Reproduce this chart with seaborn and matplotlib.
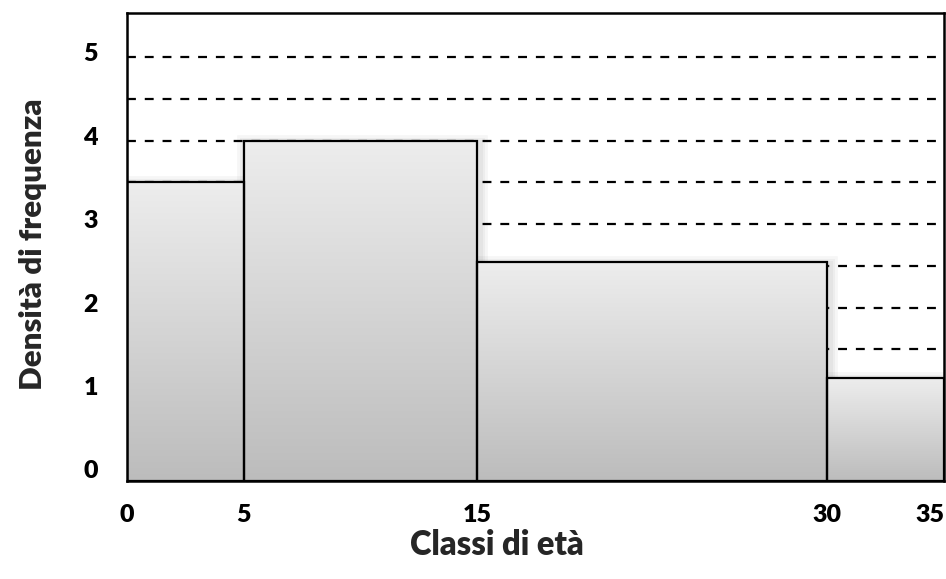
import numpy as np
import pandas as pd
import matplotlib
matplotlib.use("Agg")
import matplotlib.pyplot as plt
import matplotlib.transforms as mtransforms
import matplotlib.patheffects as pe
from matplotlib.colors import LinearSegmentedColormap
from matplotlib.patches import Rectangle
import seaborn as sns

# Age classes (bin edges) and the frequency density of each class
class_edges = [0, 5, 15, 30, 35]
density = [3.5, 4.0, 2.55, 1.15]
x_tick_labels = ["0", "5", "15", "30", "35"]
y_ticks = [0, 1, 2, 3, 4, 5]
y_tick_labels = ["0", "1", "2", "3", "4", "5"]
grid_levels = [0.5, 1.0, 1.5, 2.0, 2.5, 3.0, 3.5, 4.0, 4.5, 5.0]

sns.set_theme(style="white")
plt.rcParams["font.family"] = ["Lato", "DejaVu Sans"]
plt.rcParams["font.weight"] = "heavy"

mids = [(a + b) / 2 for a, b in zip(class_edges[:-1], class_edges[1:])]
df = pd.DataFrame({"eta": mids, "densita": density})

Y_LO, Y_HI = -0.074, 5.525

fig = plt.figure(figsize=(9.46, 5.79), dpi=100)
ax = fig.add_axes([0.1342, 0.1701, 0.8637, 0.8066])

# Histogram with unequal class widths: bar height = frequency density
sns.histplot(data=df, x="eta", weights="densita", bins=class_edges,
             stat="count", fill=True, facecolor="none", edgecolor="black",
             linewidth=1.6, ax=ax, zorder=5)

# Bars rest on the lower frame; gradient fill and soft shadow for each
cmap = LinearSegmentedColormap.from_list("bar_grad", ["#bcbcbc", "#ededed"])
grad = np.linspace(1, 0, 256).reshape(-1, 1)
for p in list(ax.patches):
    top = p.get_y() + p.get_height()
    p.set_y(Y_LO)
    p.set_height(top - Y_LO)
    x0, w = p.get_x(), p.get_width()
    shadow = Rectangle((x0, Y_LO), w, top - Y_LO, facecolor="white",
                       edgecolor="none", zorder=2)
    shadow.set_path_effects([
        pe.Stroke(linewidth=lw, foreground="black", alpha=0.035,
                  offset=(1.0, -1.5))
        for lw in (12, 8, 5)
    ] + [pe.Normal()])
    ax.add_patch(shadow)
    ax.imshow(grad, cmap=cmap, extent=[x0, x0 + w, Y_LO, top],
              aspect="auto", zorder=3, interpolation="bilinear")

# Dashed horizontal guides behind the bars
for lv in grid_levels:
    ax.axhline(lv, color="black", linewidth=1.6, linestyle=(0, (4, 4)),
               zorder=1)

ax.set_xlim(class_edges[0], class_edges[-1])
ax.set_ylim(Y_LO, Y_HI)

ax.set_xticks(class_edges)
ax.set_xticklabels(x_tick_labels, fontsize=18, fontweight="heavy")
ax.set_yticks(y_ticks)
ax.set_yticklabels(y_tick_labels, fontsize=18, fontweight="heavy")
ax.tick_params(axis="both", length=0, colors="black")
ax.tick_params(axis="x", pad=17)
ax.tick_params(axis="y", pad=21)
ax.set_xlabel("")
ax.set_ylabel("")

lift = mtransforms.ScaledTranslation(0, 0.05, fig.dpi_scale_trans)
for lab in ax.get_yticklabels():
    lab.set_transform(lab.get_transform() + lift)
ax.get_xticklabels()[-1].set_horizontalalignment("right")

for side in ("left", "right", "top", "bottom"):
    ax.spines[side].set_visible(True)
    ax.spines[side].set_color("black")
    ax.spines[side].set_linewidth(1.8)
    ax.spines[side].set_zorder(6)

fig.text(0.525, 0.0587, "Classi di età", ha="center", va="center",
         fontsize=23.5, fontweight="heavy")
fig.text(0.035, 0.5786, "Densità di frequenza", ha="center", va="center",
         rotation=90, fontsize=22.5, fontweight="heavy")

fig.savefig("out.png", dpi=100, facecolor="white")
